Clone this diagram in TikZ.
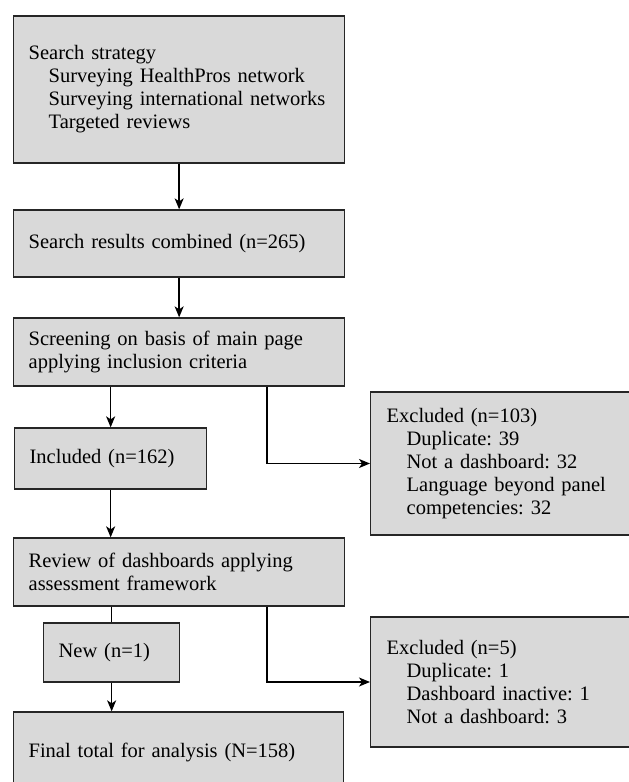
\documentclass[tikz,border=0pt]{standalone}
\usepackage{fontspec}
\setmainfont{Liberation Serif}
\usetikzlibrary{arrows.meta, positioning, calc}
\definecolor{boxgray}{RGB}{217,217,217}
\newcommand{\ind}{\hspace*{20pt}}
\frenchspacing

\begin{document}
\begin{tikzpicture}[x=1pt, y=-1pt,
        box/.style={draw=black!85, fill=boxgray, line width=1.3pt, rectangle, anchor=west,
            align=left, inner xsep=15pt, inner ysep=0pt, font=\fontsize{20.5}{23}\selectfont},
        arr/.style={-{Stealth[length=11pt, width=9pt, inset=3pt]}, line width=1.4pt},
        link/.style={line width=1.4pt}]
        \useasboundingbox (0,0) rectangle (629,782);
        \clip (0,0) rectangle (629,782);

        % main column
        \node[box, text width=301pt, minimum height=147pt] (strategy) at (13,89.5)
            {Search strategy\\ \ind Surveying HealthPros network\\ \ind Surveying international networks\\ \ind Targeted reviews};
        \node[box, text width=301pt, minimum height=67pt] (combined) at (13,243.5)
            {Search results combined (n=265)};
        \node[box, text width=301pt, minimum height=68pt] (screening) at (13,352)
            {Screening on basis of main page\\ applying inclusion criteria};
        \node[box, text width=162pt, minimum height=61pt] (included) at (14,458.5)
            {Included (n=162)};
        \node[box, text width=301pt, minimum height=68pt] (review) at (13,572)
            {Review of dashboards applying\\ assessment framework};
        \node[box, text width=106pt, minimum height=59pt] (new) at (43,652.5)
            {New (n=1)};
        \node[box, text width=300pt, minimum height=80pt] (final) at (13,752)
            {Final total for analysis (N=158)};

        % exclusions
        \node[box, text width=228pt, minimum height=143pt, inner xsep=16pt] (excl1) at (370,463.5)
            {Excluded (n=103)\\ \ind Duplicate: 39\\ \ind Not a dashboard: 32\\ \ind Language beyond panel\\ \ind competencies: 32};
        \node[box, text width=228pt, minimum height=130pt, inner xsep=16pt] (excl2) at (370,682)
            {Excluded (n=5)\\ \ind Duplicate: 1\\ \ind Dashboard inactive: 1\\ \ind Not a dashboard: 3};

        \draw[arr] (strategy) -- (combined);
        \draw[arr] (combined) -- (screening);
        \draw[arr] (screening.south -| included) -- (included.north);
        \draw[arr] (included) -- (review.north -| included);
        \draw[link] (review.south -| new) -- (new.north);
        \draw[arr] (new) -- (final.north -| new);

        \draw[arr] ([xshift=88pt]screening.south) |- (excl1.west);
        \draw[arr] ([xshift=88pt]review.south) |- (excl2.west);
    \end{tikzpicture}
\end{document}
